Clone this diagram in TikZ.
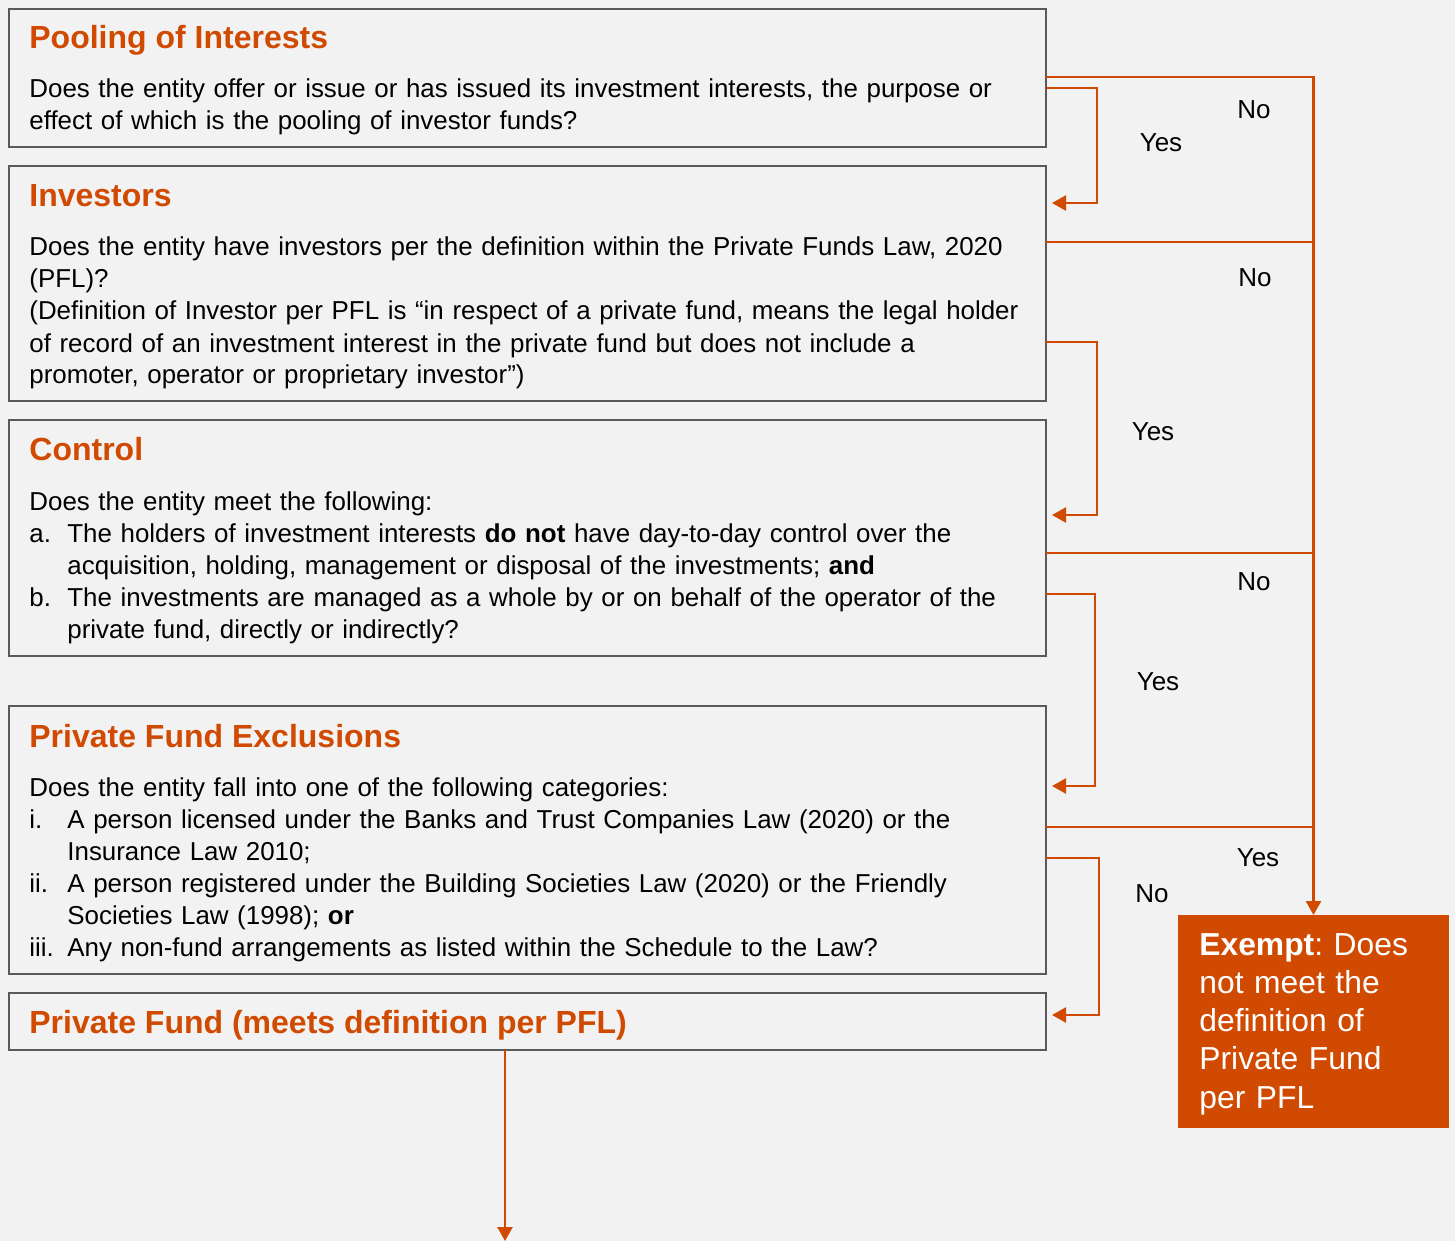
\documentclass[tikz,border=0pt]{standalone}
\usepackage{fontspec}
\setmainfont{Liberation Sans}
\usetikzlibrary{arrows.meta}
\definecolor{pwcorange}{HTML}{D04A02}
\definecolor{boxgray}{HTML}{595959}
\definecolor{bggray}{HTML}{F2F2F2}
\frenchspacing
\tikzset{
    qbox/.style={draw=boxgray, line width=1.2pt, anchor=north west, minimum width=518.5pt, inner sep=0pt, outer sep=0pt},
    qtitle/.style={anchor=base west, inner sep=0pt, text=pwcorange, font=\fontsize{16}{19}\selectfont\bfseries},
    qtext/.style={anchor=base west, inner sep=0pt, text width=512pt, align=left, font=\fontsize{12.95}{16}\selectfont},
    answer/.style={inner sep=0pt, font=\fontsize{13}{16}\selectfont},
    flow/.style={draw=pwcorange, line width=1.25pt},
}
\newcommand{\itm}[1]{\makebox[19pt][l]{#1}}
\newcommand{\cont}{\hspace*{19pt}}
\begin{document}
\begin{tikzpicture}[x=0.5pt, y=-0.5pt, >={Triangle[length=7pt, width=7.5pt]}]
    \fill[bggray] (0,0) rectangle (1455,1241);
    \useasboundingbox (0,0) rectangle (1455,1241);
    
    % question boxes
    \node[qbox, minimum height=69pt] (pool) at (9,9) {};
    \node[qbox, minimum height=117.5pt] (inv) at (9,166) {};
    \node[qbox, minimum height=118pt] (ctrl) at (9,420) {};
    \node[qbox, minimum height=134pt] (excl) at (9,706) {};
    \node[qbox, minimum height=28.5pt] (pf) at (9,993) {};
    \node[fill=pwcorange, anchor=north west, minimum width=135.5pt, minimum height=106.5pt, inner sep=0pt, outer sep=0pt] (exempt) at (1178,915) {};
    
    \node[qtitle] (pooltitle) at (29,49) {Pooling of Interests};
    \node[qtext] (pooltext) at (29,98) {Does the entity offer or issue or has issued its investment interests, the purpose or\\
        effect of which is the pooling of investor funds?};
    
    \node[qtitle] (invtitle) at (29,206) {Investors};
    \node[qtext] (invtext) at (29,256) {Does the entity have investors per the definition within the Private Funds Law, 2020\\
        (PFL)?\\
        (Definition of Investor per PFL is “in respect of a private fund, means the legal holder\\
        of record of an investment interest in the private fund but does not include a\\
        promoter, operator or proprietary investor”)};
    
    \node[qtitle] (ctrltitle) at (29,460) {Control};
    \node[qtext] (ctrltext) at (29,510) {Does the entity meet the following:\\
        \itm{a.}The holders of investment interests \textbf{do not} have day-to-day control over the\\
        \cont acquisition, holding, management or disposal of the investments; \textbf{and}\\
        \itm{b.}The investments are managed as a whole by or on behalf of the operator of the\\
        \cont private fund, directly or indirectly?};
    
    \node[qtitle] (excltitle) at (29,747) {Private Fund Exclusions};
    \node[qtext] (excltext) at (29,796) {Does the entity fall into one of the following categories:\\
        \itm{i.}A person licensed under the Banks and Trust Companies Law (2020) or the\\
        \cont Insurance Law 2010;\\
        \itm{ii.}A person registered under the Building Societies Law (2020) or the Friendly\\
        \cont Societies Law (1998); \textbf{or}\\
        \itm{iii.}Any non-fund arrangements as listed within the Schedule to the Law?};
    
    \node[qtitle] (pftitle) at (29,1033) {Private Fund (meets definition per PFL)};
    
    \node[anchor=base west, inner sep=0pt, text=white, text width=120pt, align=left, font=\fontsize{15.9}{19.15}\selectfont] (exempttext) at (1199,955) {\textbf{Exempt}: Does\\
        not meet the\\
        definition of\\
        Private Fund\\
        per PFL};
    
    % connectors
    \draw[flow, ->] (pool.east |- 0,77) -| (exempt.north);
    \draw[flow, ->, shorten >=3pt] (pool.east |- 0,88) -- ++(51,0) |- (inv.east |- 0,203);
    \draw[flow] (inv.east |- 0,242) -- (exempt.north |- 0,242);
    \draw[flow, ->, shorten >=3pt] (inv.east |- 0,342) -- ++(51,0) |- (ctrl.east |- 0,515);
    \draw[flow] (ctrl.east |- 0,553) -- (exempt.north |- 0,553);
    \draw[flow, ->, shorten >=3pt] (ctrl.east |- 0,594) -- ++(49,0) |- (excl.east |- 0,786);
    \draw[flow] (excl.east |- 0,827) -- (exempt.north |- 0,827);
    \draw[flow, ->, shorten >=3pt] (excl.east |- 0,858) -- ++(53,0) |- (pf.east |- 0,1015);
    \coordinate (next) at (505,1241);
    \draw[flow, ->] (pf.south -| next) -- (next);
    
    \node[answer] (no1) at (1254,110) {No};
    \node[answer] (yes1) at (1161,143) {Yes};
    \node[answer] (no2) at (1255,278) {No};
    \node[answer] (yes2) at (1153,432) {Yes};
    \node[answer] (no3) at (1254,582) {No};
    \node[answer] (yes3) at (1158,682) {Yes};
    \node[answer] (yes4) at (1258,858) {Yes};
    \node[answer] (no4) at (1152,894) {No};
\end{tikzpicture}
\end{document}
